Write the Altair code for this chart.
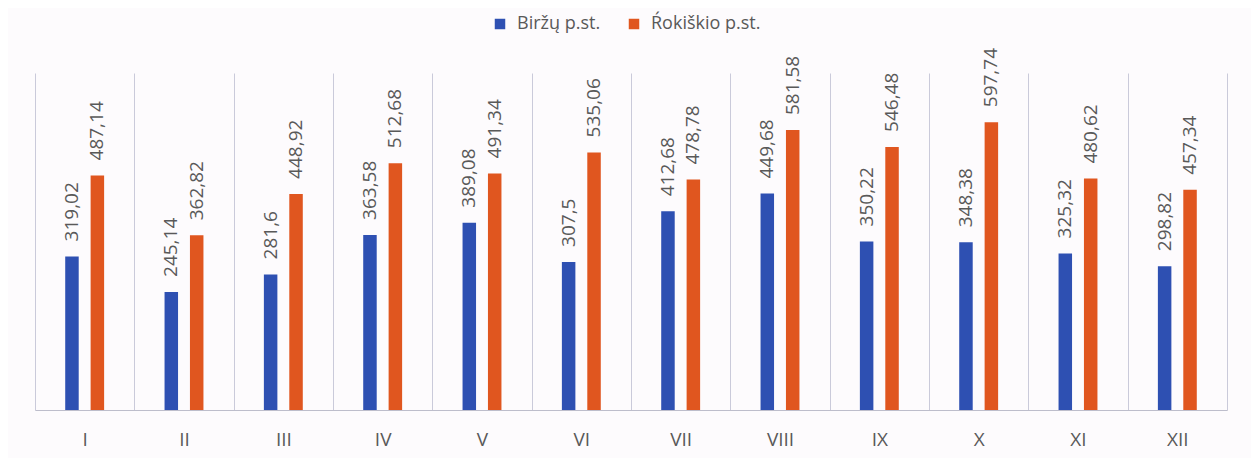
import altair as alt
import pandas as pd

months = ["I", "II", "III", "IV", "V", "VI", "VII", "VIII", "IX", "X", "XI", "XII"]
series = ["Biržų p.st.", "Ŕokiškio p.st."]
birzu = [319.02, 245.14, 281.6, 363.58, 389.08, 307.5, 412.68, 449.68, 350.22, 348.38, 325.32, 298.82]
rokiskio = [487.14, 362.82, 448.92, 512.68, 491.34, 535.06, 478.78, 581.58, 546.48, 597.74, 480.62, 457.34]
colors = ["#2E50B2", "#E0561F"]

rows = []
for name, vals in zip(series, [birzu, rokiskio]):
    for m, v in zip(months, vals):
        rows.append({"month": m, "series": name, "value": v,
                     "label": (f"{v:.2f}".rstrip("0").rstrip(".")).replace(".", ",")})
df = pd.DataFrame(rows)

FONT = "Open Sans"
GRAY = "#595959"

base = alt.Chart(df).encode(
    x=alt.X(
        "month:N",
        sort=months,
        scale=alt.Scale(paddingInner=0, paddingOuter=0),
        axis=alt.Axis(
            title=None,
            labelAngle=0,
            ticks=False,
            grid=True,
            tickBand="extent",
            gridColor="#CACADA",
            gridWidth=1,
            domainColor="#BDBDCB",
            domainWidth=1,
            labelFont=FONT,
            labelFontSize=19,
            labelColor=GRAY,
            labelPadding=20,
        ),
    ),
    xOffset=alt.XOffset(
        "series:N",
        sort=series,
        scale=alt.Scale(paddingInner=0.09, paddingOuter=1),
    ),
    y=alt.Y("value:Q", scale=alt.Scale(domain=[0, 700]), axis=None),
)

bars = base.mark_bar(width=13.5).encode(
    color=alt.Color(
        "series:N",
        sort=series,
        scale=alt.Scale(domain=series, range=colors),
        legend=alt.Legend(
            title=None,
            orient="none",
            direction="horizontal",
            legendX=456,
            legendY=-58,
            symbolType="square",
            symbolSize=110,
            symbolStrokeWidth=0,
            labelFont=FONT,
            labelFontSize=18,
            labelColor=GRAY,
            labelOffset=8,
            labelLimit=300,
            columnPadding=24,
        ),
    )
)

labels = base.mark_text(
    angle=270,
    align="left",
    baseline="middle",
    dx=15,
    font=FONT,
    fontSize=19,
    color=GRAY,
).encode(text="label:N")

chart = (
    alt.layer(bars, labels)
    .properties(
        width=1192,
        height=337,
        background="#FDFBFD",
        autosize=alt.AutoSizeParams(type="none"),
        padding={"left": 27, "top": 65, "right": 24, "bottom": 48},
    )
    .configure_view(stroke=None)
)

chart.save("out.html", embed_options={"renderer": "svg", "actions": False})
